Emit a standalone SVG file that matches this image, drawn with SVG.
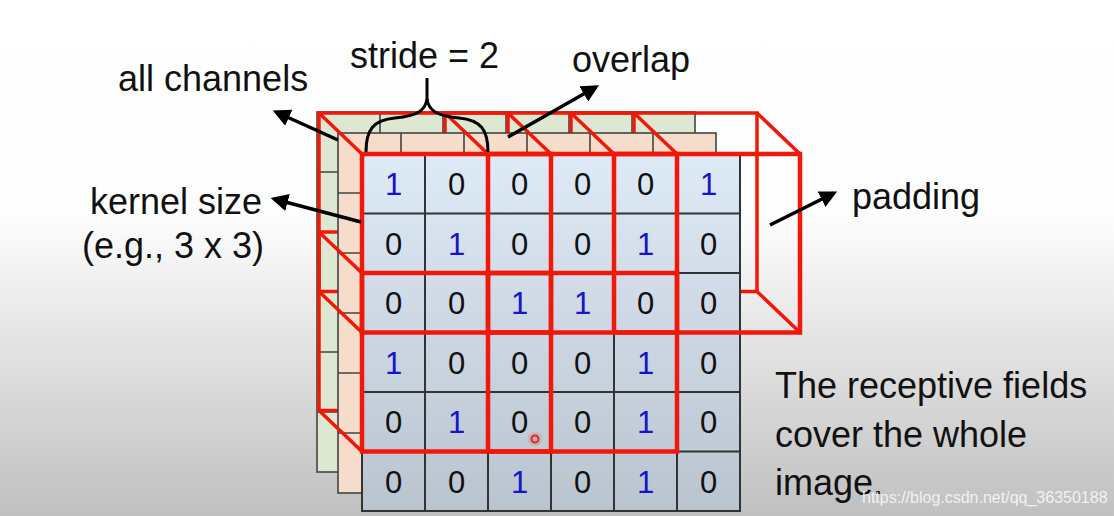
<svg xmlns="http://www.w3.org/2000/svg" width="1114" height="516" viewBox="0 0 1114 516">
<defs>
<linearGradient id="bg" x1="0" y1="0" x2="0" y2="1">
<stop offset="0" stop-color="#ffffff"/>
<stop offset="0.42" stop-color="#fdfdfd"/>
<stop offset="1" stop-color="#c0c0c0"/>
</linearGradient>
<linearGradient id="cellg" gradientUnits="userSpaceOnUse" x1="0" y1="154" x2="0" y2="512">
<stop offset="0" stop-color="#dfeaf7"/>
<stop offset="1" stop-color="#b9c4cf"/>
</linearGradient>
<marker id="ah" viewBox="0 0 10 10" refX="8" refY="5" markerWidth="5" markerHeight="5" orient="auto">
<path d="M0,0 L10,5 L0,10 z" fill="#000"/>
</marker>
<style>
.lbl{font-family:"Liberation Sans",Arial,sans-serif;font-size:36px;fill:#111}
.d{font-family:"Liberation Sans",Arial,sans-serif;font-size:31px;text-anchor:middle;fill:#111}
.b{fill:#1414c8}
.gl{stroke:#444;stroke-width:1.6;fill:none}
.red{stroke:#f01808;stroke-width:3.5;fill:none}
.redf{stroke:#f01808;stroke-width:4.5;fill:none}
.arr{stroke:#000;stroke-width:3.5;fill:none;marker-end:url(#ah)}
</style>
</defs>
<rect width="1114" height="516" fill="url(#bg)"/>

<g id="layer-green">
<rect x="317" y="112" width="378" height="360" fill="#dde8d3" stroke="#444" stroke-width="1.6"/>
<path class="gl" d="M380,112V472M443,112V472M506,112V472M569,112V472M632,112V472M317,172H695M317,232H695M317,292H695M317,352H695M317,412H695"/>
</g>

<g id="kernel-back" class="red">
<rect x="319" y="113" width="189" height="178.5"/>
<rect x="445" y="113" width="189" height="178.5"/>
<rect x="571" y="113" width="186" height="178.5" />
<rect x="319" y="232" width="189" height="178.5"/>
<rect x="445" y="232" width="189" height="178.5"/>
</g>

<g id="layer-orange">
<rect x="338" y="133" width="378" height="360" fill="#f5dccb" stroke="#444" stroke-width="1.6"/>
<path class="gl" d="M401,133V493M464,133V493M527,133V493M590,133V493M653,133V493M338,193H716M338,253H716M338,313H716M338,373H716M338,433H716"/>
</g>

<g id="kernel-edges" class="red">
<path d="M319,113L362,154M508,113L551,154M319,291.5L362,332.5M508,291.5L551,332.5"/>
<path d="M445,113L488,154M634,113L677,154M445,291.5L488,332.5M634,291.5L677,332.5"/>
<path d="M571,113L614,154M757,113L800,154M571,291.5L614,332.5M757,291.5L800,332.5"/>
<path d="M319,232L362,273M508,232L551,273M319,410.5L362,451.5M508,410.5L551,451.5"/>
<path d="M445,232L488,273M634,232L677,273M445,410.5L488,451.5M634,410.5L677,451.5"/>
</g>

<g id="input-grid">
<rect x="362" y="154" width="378" height="357" fill="url(#cellg)" stroke="#333" stroke-width="2"/>
<path d="M425,154V511M488,154V511M551,154V511M614,154V511M677,154V511M362,213.5H740M362,273H740M362,332.5H740M362,392H740M362,451.5H740" stroke="#333" stroke-width="2" fill="none"/>
<g>
<text class="d b" x="393.5" y="195">1</text><text class="d" x="456.5" y="195">0</text><text class="d" x="519.5" y="195">0</text><text class="d" x="582.5" y="195">0</text><text class="d" x="645.5" y="195">0</text><text class="d b" x="708.5" y="195">1</text>
<text class="d" x="393.5" y="254.5">0</text><text class="d b" x="456.5" y="254.5">1</text><text class="d" x="519.5" y="254.5">0</text><text class="d" x="582.5" y="254.5">0</text><text class="d b" x="645.5" y="254.5">1</text><text class="d" x="708.5" y="254.5">0</text>
<text class="d" x="393.5" y="314">0</text><text class="d" x="456.5" y="314">0</text><text class="d b" x="519.5" y="314">1</text><text class="d b" x="582.5" y="314">1</text><text class="d" x="645.5" y="314">0</text><text class="d" x="708.5" y="314">0</text>
<text class="d b" x="393.5" y="373.5">1</text><text class="d" x="456.5" y="373.5">0</text><text class="d" x="519.5" y="373.5">0</text><text class="d" x="582.5" y="373.5">0</text><text class="d b" x="645.5" y="373.5">1</text><text class="d" x="708.5" y="373.5">0</text>
<text class="d" x="393.5" y="433">0</text><text class="d b" x="456.5" y="433">1</text><text class="d" x="519.5" y="433">0</text><text class="d" x="582.5" y="433">0</text><text class="d b" x="645.5" y="433">1</text><text class="d" x="708.5" y="433">0</text>
<text class="d" x="393.5" y="492.5">0</text><text class="d" x="456.5" y="492.5">0</text><text class="d b" x="519.5" y="492.5">1</text><text class="d" x="582.5" y="492.5">0</text><text class="d b" x="645.5" y="492.5">1</text><text class="d" x="708.5" y="492.5">0</text>
</g>
</g>

<g id="kernel-front" class="redf">
<rect x="362" y="154" width="189" height="178.5"/>
<rect x="488" y="154" width="189" height="178.5"/>
<rect x="614" y="154" width="186" height="178.5"/>
<rect x="362" y="273" width="189" height="178.5"/>
<rect x="488" y="273" width="189" height="178.5"/>
</g>

<g id="cursor">
<circle cx="535" cy="439" r="7" fill="#f04030" opacity="0.18"/>
<circle cx="535" cy="439" r="3.5" fill="none" stroke="#e82818" stroke-width="2"/>
</g>

<g id="connectors">
<path class="arr" d="M338,140L276,112"/>
<path d="M366,152C366,130 373,120 395,118C418,116 426,110 427,98M488,152C488,130 481,120 459,118C436,116 428,110 427,98M427,98V78" stroke="#000" stroke-width="3" fill="none"/>
<path class="arr" d="M508,137L596,87"/>
<path class="arr" d="M361,222L274,199"/>
<path class="arr" d="M770,225L834,193"/>
</g>

<g id="labels">
<text class="lbl" x="118" y="91">all channels</text>
<text class="lbl" x="350" y="68">stride = 2</text>
<text class="lbl" x="572" y="72">overlap</text>
<text class="lbl" x="90" y="214">kernel size</text>
<text class="lbl" x="82" y="258">(e.g., 3 x 3)</text>
<text class="lbl" x="852" y="209">padding</text>
<text class="lbl" x="775" y="398">The receptive fields</text>
<text class="lbl" x="775" y="447">cover the whole</text>
<text class="lbl" x="775" y="495">image.</text>
<text x="862" y="503" font-family="Liberation Sans, Arial, sans-serif" font-size="16" fill="#f2f2f2">https://blog.csdn.net/qq_36350188</text>
</g>
</svg>
